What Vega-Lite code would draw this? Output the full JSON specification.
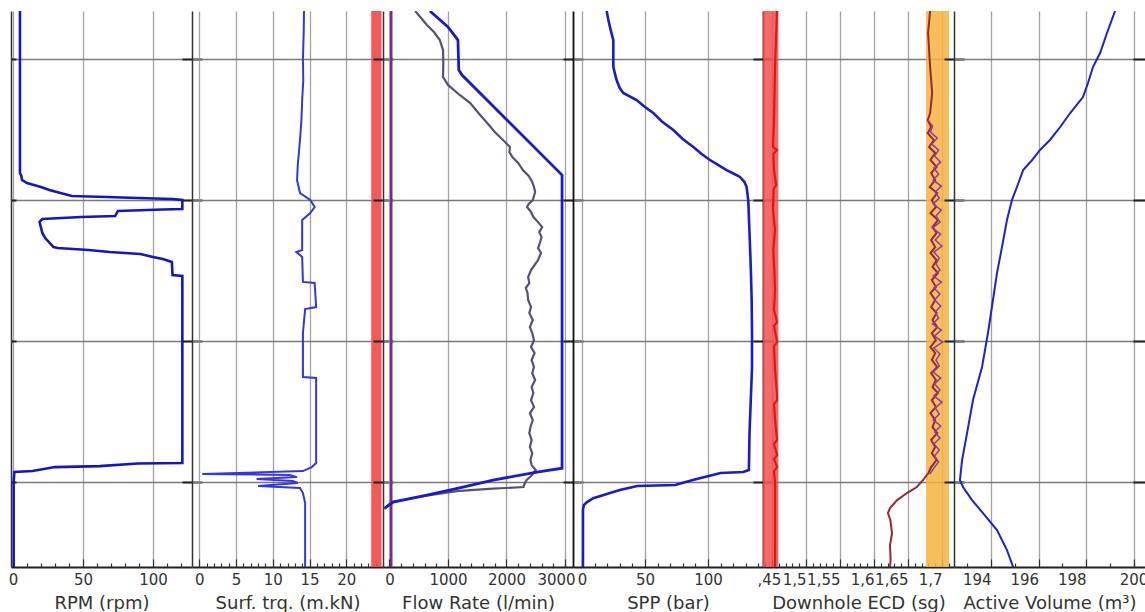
{
  "$schema": "https://vega.github.io/schema/vega-lite/v6.json",
  "background": "white",
  "padding": {"left": 8, "top": 9, "right": 0, "bottom": 0},
  "spacing": 0,
  "bounds": "flush",
  "config": {
    "view": {"stroke": null, "fill": null},
    "axis": {
      "labelFont": "DejaVu Sans", "labelFontSize": 15, "labelColor": "#333333",
      "titleFont": "DejaVu Sans", "titleFontSize": 18, "titleFontWeight": "normal", "titleColor": "#333333",
      "labelOverlap": false, "labelFlush": false
    }
  },
  "datasets": {
    "rpm": [{"t":6.6,"v":5},{"t":18.08,"v":5},{"t":18.29,"v":6},{"t":18.58,"v":6.5},{"t":18.79,"v":10},{"t":19.07,"v":20},{"t":19.29,"v":26},{"t":19.5,"v":34},{"t":19.71,"v":42},{"t":19.78,"v":67},{"t":19.85,"v":89},{"t":19.92,"v":114},{"t":19.99,"v":121},{"t":20.63,"v":121},{"t":20.67,"v":107},{"t":20.77,"v":75},{"t":21.13,"v":73},{"t":21.2,"v":49},{"t":21.34,"v":21},{"t":21.55,"v":19},{"t":22.33,"v":21},{"t":22.69,"v":23},{"t":23.33,"v":29},{"t":23.4,"v":32},{"t":23.54,"v":54},{"t":23.68,"v":69},{"t":23.82,"v":91},{"t":24.03,"v":100},{"t":24.18,"v":107},{"t":24.39,"v":113.5},{"t":25.31,"v":114},{"t":25.38,"v":121},{"t":38.63,"v":121},{"t":38.67,"v":89},{"t":38.85,"v":62},{"t":38.92,"v":30},{"t":39.2,"v":14},{"t":39.27,"v":1},{"t":39.98,"v":0.5},{"t":46,"v":0.5}],
    "trq": [{"t":6.6,"v":14.25},{"t":8.2,"v":14.2},{"t":10.07,"v":14.1},{"t":11.5,"v":14.15},{"t":12.91,"v":14.0},{"t":14.3,"v":13.9},{"t":15.74,"v":13.7},{"t":17.51,"v":13.4},{"t":18.58,"v":13.3},{"t":19.5,"v":13.7},{"t":19.99,"v":15.1},{"t":20.49,"v":15.7},{"t":20.92,"v":15.1},{"t":21.41,"v":14.0},{"t":23.54,"v":14.0},{"t":23.68,"v":13.2},{"t":24.03,"v":14.0},{"t":25.8,"v":14.1},{"t":25.87,"v":15.7},{"t":27.58,"v":15.9},{"t":27.72,"v":14.4},{"t":29.42,"v":14.1},{"t":32.54,"v":14.1},{"t":32.61,"v":15.9},{"t":38.63,"v":15.9},{"t":38.92,"v":15.3},{"t":39.2,"v":14.1},{"t":39.41,"v":0.4},{"t":39.48,"v":12.3},{"t":39.63,"v":13.3},{"t":39.77,"v":7.8},{"t":39.91,"v":12.7},{"t":40.05,"v":13.4},{"t":40.26,"v":8.0},{"t":40.4,"v":13.7},{"t":40.76,"v":14.1},{"t":41.47,"v":14.4},{"t":46,"v":14.4}],
    "trqband": [{"lo":23.4,"hi":24.8}],
    "flowin": [{"t":6.6,"v":690},{"t":7.73,"v":1000},{"t":8.66,"v":1170},{"t":10.78,"v":1185},{"t":11.14,"v":1240},{"t":14.54,"v":2060},{"t":18.22,"v":2950},{"t":39.0,"v":2950},{"t":39.27,"v":2520},{"t":39.84,"v":1770},{"t":40.4,"v":1200},{"t":40.9,"v":640},{"t":41.4,"v":60},{"t":41.82,"v":-80}],
    "flowout": [{"t":6.6,"v":440},{"t":7.1,"v":540},{"t":7.59,"v":640},{"t":8.09,"v":760},{"t":8.66,"v":860},{"t":9.36,"v":915},{"t":10.21,"v":920},{"t":11.28,"v":915},{"t":11.84,"v":1000},{"t":12.55,"v":1200},{"t":13.12,"v":1380},{"t":13.83,"v":1520},{"t":14.54,"v":1670},{"t":15.18,"v":1800},{"t":15.74,"v":1940},{"t":16.24,"v":2060},{"t":16.59,"v":2050},{"t":16.95,"v":2100},{"t":17.37,"v":2200},{"t":17.87,"v":2280},{"t":18.29,"v":2380},{"t":18.72,"v":2440},{"t":19.07,"v":2470},{"t":19.43,"v":2490},{"t":19.71,"v":2470},{"t":20.0,"v":2450},{"t":20.28,"v":2380},{"t":20.49,"v":2350},{"t":20.85,"v":2420},{"t":21.2,"v":2460},{"t":21.56,"v":2540},{"t":21.91,"v":2610},{"t":22.27,"v":2560},{"t":22.62,"v":2600},{"t":23.04,"v":2570},{"t":23.4,"v":2540},{"t":23.75,"v":2590},{"t":24.25,"v":2540},{"t":24.6,"v":2480},{"t":24.96,"v":2420},{"t":25.45,"v":2370},{"t":25.88,"v":2390},{"t":26.23,"v":2330},{"t":26.59,"v":2360},{"t":27.08,"v":2370},{"t":27.58,"v":2420},{"t":28.0,"v":2390},{"t":28.5,"v":2450},{"t":29.0,"v":2400},{"t":29.42,"v":2440},{"t":29.92,"v":2470},{"t":30.41,"v":2420},{"t":30.84,"v":2480},{"t":31.33,"v":2430},{"t":31.83,"v":2470},{"t":32.26,"v":2440},{"t":32.75,"v":2490},{"t":33.25,"v":2430},{"t":33.67,"v":2460},{"t":34.17,"v":2420},{"t":34.67,"v":2470},{"t":35.09,"v":2400},{"t":35.59,"v":2450},{"t":36.08,"v":2410},{"t":36.51,"v":2390},{"t":37.0,"v":2430},{"t":37.5,"v":2400},{"t":37.93,"v":2440},{"t":38.42,"v":2410},{"t":38.78,"v":2430},{"t":39.13,"v":2500},{"t":39.55,"v":2420},{"t":39.84,"v":2340},{"t":40.19,"v":2300},{"t":40.33,"v":2290},{"t":40.47,"v":1700},{"t":40.62,"v":1150},{"t":40.97,"v":600},{"t":41.4,"v":40},{"t":41.89,"v":-90}],
    "flowref": [{"v":30}],
    "spp": [{"t":6.6,"v":19.6},{"t":7.24,"v":21},{"t":7.73,"v":22.2},{"t":8.66,"v":24.9},{"t":10.57,"v":24.9},{"t":11.49,"v":27.5},{"t":12.06,"v":30},{"t":12.41,"v":32.8},{"t":12.91,"v":43.4},{"t":13.4,"v":50},{"t":13.83,"v":56.6},{"t":14.47,"v":64},{"t":15.03,"v":72.5},{"t":15.67,"v":80},{"t":16.24,"v":88.4},{"t":16.73,"v":95},{"t":17.16,"v":101.6},{"t":17.51,"v":108},{"t":17.87,"v":114.8},{"t":18.15,"v":121},{"t":18.36,"v":125.4},{"t":18.72,"v":129},{"t":19.07,"v":130.7},{"t":20.0,"v":132},{"t":22.33,"v":133},{"t":24.74,"v":134},{"t":27.08,"v":134.7},{"t":29.42,"v":135},{"t":31.83,"v":135},{"t":34.17,"v":134},{"t":36.51,"v":133},{"t":39.13,"v":132.5},{"t":39.27,"v":128},{"t":39.34,"v":110},{"t":39.84,"v":88},{"t":40.19,"v":74},{"t":40.26,"v":44},{"t":40.55,"v":30},{"t":41.12,"v":9},{"t":41.4,"v":4},{"t":41.61,"v":1.5},{"t":41.96,"v":0.8},{"t":46,"v":0.8}],
    "ecdredband": [{"lo":1.4368,"hi":1.4595}],
    "ecdorange": [{"lo":1.6765,"hi":1.7103}],
    "ecdred": [{"t":6.6,"v":1.4574},{"t":10.57,"v":1.4545},{"t":14.32,"v":1.453},{"t":16.24,"v":1.4515},{"t":16.45,"v":1.4574},{"t":16.73,"v":1.452},{"t":17.87,"v":1.453},{"t":18.93,"v":1.456},{"t":19.22,"v":1.4525},{"t":20.7,"v":1.4515},{"t":22.12,"v":1.4545},{"t":23.54,"v":1.452},{"t":24.96,"v":1.4535},{"t":26.37,"v":1.4545},{"t":27.79,"v":1.453},{"t":28.64,"v":1.4575},{"t":28.92,"v":1.453},{"t":30.06,"v":1.4575},{"t":30.34,"v":1.453},{"t":32.04,"v":1.4545},{"t":33.81,"v":1.4575},{"t":34.17,"v":1.4575},{"t":34.45,"v":1.453},{"t":35.59,"v":1.4545},{"t":37.0,"v":1.4575},{"t":37.29,"v":1.453},{"t":38.07,"v":1.4575},{"t":38.35,"v":1.453},{"t":38.92,"v":1.4575},{"t":39.2,"v":1.453},{"t":39.98,"v":1.4545},{"t":46,"v":1.4545}],
    "ecd": [{"t":6.6,"v":1.6825},{"t":8.16,"v":1.6795},{"t":10.57,"v":1.6825},{"t":12.41,"v":1.6855},{"t":13.83,"v":1.6825},{"t":14.33,"v":1.679},{"t":14.82,"v":1.684},{"t":15.25,"v":1.679},{"t":15.74,"v":1.688},{"t":16.24,"v":1.681},{"t":16.66,"v":1.69},{"t":17.16,"v":1.683},{"t":17.66,"v":1.692},{"t":18.08,"v":1.684},{"t":18.58,"v":1.69},{"t":19.07,"v":1.682},{"t":19.5,"v":1.693},{"t":20.0,"v":1.685},{"t":20.49,"v":1.691},{"t":20.92,"v":1.683},{"t":21.41,"v":1.694},{"t":21.91,"v":1.686},{"t":22.33,"v":1.692},{"t":22.83,"v":1.684},{"t":23.33,"v":1.69},{"t":23.75,"v":1.683},{"t":24.25,"v":1.692},{"t":24.74,"v":1.686},{"t":25.17,"v":1.694},{"t":25.66,"v":1.685},{"t":26.16,"v":1.691},{"t":26.59,"v":1.683},{"t":27.08,"v":1.69},{"t":27.58,"v":1.684},{"t":28.0,"v":1.692},{"t":28.5,"v":1.686},{"t":29.0,"v":1.693},{"t":29.42,"v":1.685},{"t":29.92,"v":1.691},{"t":30.41,"v":1.683},{"t":30.84,"v":1.69},{"t":31.33,"v":1.685},{"t":31.83,"v":1.693},{"t":32.26,"v":1.684},{"t":32.75,"v":1.691},{"t":33.25,"v":1.686},{"t":33.67,"v":1.694},{"t":34.17,"v":1.685},{"t":34.67,"v":1.691},{"t":35.09,"v":1.683},{"t":35.59,"v":1.69},{"t":36.08,"v":1.686},{"t":36.51,"v":1.693},{"t":37.0,"v":1.684},{"t":37.5,"v":1.69},{"t":37.93,"v":1.685},{"t":38.42,"v":1.692},{"t":38.92,"v":1.684},{"t":39.34,"v":1.68},{"t":39.84,"v":1.672},{"t":40.33,"v":1.663},{"t":40.76,"v":1.6485},{"t":41.26,"v":1.634},{"t":41.82,"v":1.6235},{"t":42.18,"v":1.6205},{"t":42.67,"v":1.624},{"t":43.61,"v":1.6265},{"t":44.46,"v":1.6235},{"t":45.51,"v":1.6245},{"t":46.0,"v":1.6235}],
    "ecd2": [{"t":14.33,"v":1.679},{"t":14.76,"v":1.686},{"t":15.18,"v":1.683},{"t":15.61,"v":1.693},{"t":16.03,"v":1.685},{"t":16.46,"v":1.695},{"t":16.88,"v":1.689},{"t":17.31,"v":1.698},{"t":17.73,"v":1.688},{"t":18.16,"v":1.695},{"t":18.58,"v":1.687},{"t":19.01,"v":1.699},{"t":19.43,"v":1.690},{"t":19.86,"v":1.696},{"t":20.28,"v":1.687},{"t":20.71,"v":1.699},{"t":21.13,"v":1.691},{"t":21.56,"v":1.697},{"t":21.98,"v":1.686},{"t":22.41,"v":1.698},{"t":22.83,"v":1.69},{"t":23.26,"v":1.7},{"t":23.68,"v":1.688},{"t":24.11,"v":1.696},{"t":24.53,"v":1.691},{"t":24.96,"v":1.697},{"t":25.38,"v":1.687},{"t":25.81,"v":1.699},{"t":26.23,"v":1.688},{"t":26.66,"v":1.697},{"t":27.08,"v":1.689},{"t":27.51,"v":1.698},{"t":27.93,"v":1.69},{"t":28.36,"v":1.695},{"t":28.78,"v":1.686},{"t":29.21,"v":1.699},{"t":29.63,"v":1.689},{"t":30.06,"v":1.701},{"t":30.48,"v":1.688},{"t":30.91,"v":1.697},{"t":31.33,"v":1.691},{"t":31.76,"v":1.696},{"t":32.18,"v":1.687},{"t":32.61,"v":1.698},{"t":33.03,"v":1.689},{"t":33.46,"v":1.697},{"t":33.88,"v":1.688},{"t":34.31,"v":1.7},{"t":34.73,"v":1.69},{"t":35.16,"v":1.696},{"t":35.58,"v":1.687},{"t":36.01,"v":1.698},{"t":36.43,"v":1.689},{"t":36.86,"v":1.697},{"t":37.28,"v":1.688},{"t":37.71,"v":1.696},{"t":38.13,"v":1.689},{"t":38.56,"v":1.695},{"t":38.98,"v":1.688},{"t":39.41,"v":1.682}],
    "vol": [{"t":6.6,"v":199.22},{"t":8.16,"v":198.88},{"t":9.58,"v":198.59},{"t":10.57,"v":198.29},{"t":11.7,"v":198.08},{"t":12.7,"v":197.87},{"t":13.83,"v":197.33},{"t":14.82,"v":196.91},{"t":15.74,"v":196.48},{"t":16.45,"v":196.06},{"t":17.16,"v":195.73},{"t":17.87,"v":195.35},{"t":19.07,"v":195.09},{"t":20.0,"v":194.88},{"t":21.41,"v":194.67},{"t":23.33,"v":194.46},{"t":25.17,"v":194.25},{"t":27.08,"v":194.08},{"t":29.42,"v":193.87},{"t":31.83,"v":193.62},{"t":34.17,"v":193.24},{"t":36.51,"v":192.99},{"t":38.42,"v":192.78},{"t":39.84,"v":192.69},{"t":40.33,"v":192.82},{"t":41.26,"v":193.2},{"t":42.18,"v":193.66},{"t":43.38,"v":194.25},{"t":44.8,"v":194.67},{"t":46.0,"v":194.93}]
  },
  "hconcat": [
    {
      "width": 181, "height": 556,
      "layer": [
        {
          "data": {"name": "rpm"},
          "mark": {"type": "line", "color": "#1515c8", "strokeWidth": 2.6, "clip": true},
          "encoding": {
            "x": {"field": "v", "type": "quantitative", "scale": {"domain": [-1.4, 127.9], "nice": false, "zero": false},
              "axis": {"orient": "bottom", "title": "RPM (rpm)", "format": "d", "values": [0, 50, 100],
                "grid": true, "gridColor": "#a3a3a3", "gridWidth": 1.3, "tickSize": -8,
                "tickColor": "#333333", "tickWidth": 1.2, "labelPadding": 13, "domainColor": "#222222", "domainWidth": 2, "titleY": 27}},
            "y": {"field": "t", "type": "quantitative", "scale": {"domain": [6.6, 46.0], "reverse": true, "nice": false, "zero": false},
              "axis": {"orient": "left", "values": [10,20,30,40], "labels": false, "title": null, "tickSize": -5, "tickColor": "#222222", "tickWidth": 2, "grid": true, "gridColor": "#7a7a7a", "gridWidth": 1.3, "domainColor": "#333333", "domainWidth": 1.5}},
            "order": {"field": "t"}
          }
        },
        {
          "data": {"name": "rpm"},
          "mark": {"type": "line", "opacity": 0, "clip": true},
          "encoding": {
            "x": {"field": "v", "type": "quantitative", "scale": {"domain": [-1.4, 127.9], "nice": false, "zero": false},
              "axis": {"orient": "bottom", "title": null, "values": [10,20,30,40,60,70,80,90,110,120], "labels": false, "grid": false, "domain": false, "tickSize": -4, "tickColor": "#333333", "tickWidth": 1.2}},
            "y": {"field": "t", "type": "quantitative", "scale": {"domain": [6.6, 46.0], "reverse": true, "nice": false, "zero": false},
              "axis": {"orient": "right", "values": [10,20,30,40], "labels": false, "title": null, "tickSize": 10, "tickColor": "#222222", "tickWidth": 2, "grid": false, "domain": false}},
            "order": {"field": "t"}
          }
        }
      ],
      "resolve": {"axis": {"x": "independent", "y": "independent"}}
    },
    {
      "width": 191, "height": 556,
      "layer": [
        {
          "data": {"name": "trqband"},
          "mark": {"type": "rect", "color": "#f04848", "opacity": 0.9},
          "encoding": {
            "x": {"field": "lo", "type": "quantitative", "scale": {"domain": [-1, 25], "nice": false, "zero": false}, "axis": null},
            "x2": {"field": "hi"}
          }
        },
        {
          "data": {"name": "trq"},
          "mark": {"type": "line", "color": "#3535e6", "strokeWidth": 2, "clip": true},
          "encoding": {
            "x": {"field": "v", "type": "quantitative", "scale": {"domain": [-1, 25], "nice": false, "zero": false},
              "axis": {"orient": "bottom", "title": "Surf. trq. (m.kN)", "format": "d", "values": [0, 5, 10, 15, 20],
                "grid": true, "gridColor": "#a3a3a3", "gridWidth": 1.3, "tickSize": -8,
                "tickColor": "#333333", "tickWidth": 1.2, "labelPadding": 13, "domainColor": "#222222", "domainWidth": 2, "titleY": 27}},
            "y": {"field": "t", "type": "quantitative", "scale": {"domain": [6.6, 46.0], "reverse": true, "nice": false, "zero": false},
              "axis": {"orient": "left", "values": [10,20,30,40], "labels": false, "title": null, "tickSize": 10, "tickColor": "#222222", "tickWidth": 2, "grid": true, "gridColor": "#7a7a7a", "gridWidth": 1.3, "domainColor": "#333333", "domainWidth": 1.5}},
            "order": {"field": "t"}
          }
        },
        {
          "data": {"name": "trq"},
          "mark": {"type": "line", "opacity": 0, "clip": true},
          "encoding": {
            "x": {"field": "v", "type": "quantitative", "scale": {"domain": [-1, 25], "nice": false, "zero": false},
              "axis": {"orient": "bottom", "title": null, "values": [1,2,3,4,6,7,8,9,11,12,13,14,16,17,18,19,21,22,23,24], "labels": false, "grid": false, "domain": false, "tickSize": -4, "tickColor": "#333333", "tickWidth": 1.2}},
            "y": {"field": "t", "type": "quantitative", "scale": {"domain": [6.6, 46.0], "reverse": true, "nice": false, "zero": false},
              "axis": {"orient": "right", "values": [10,20,30,40], "labels": false, "title": null, "tickSize": 10, "tickColor": "#222222", "tickWidth": 2, "grid": false, "domain": false}},
            "order": {"field": "t"}
          }
        }
      ],
      "resolve": {"axis": {"x": "independent", "y": "independent"}}
    },
    {
      "width": 190, "height": 556,
      "layer": [
        {
          "data": {"name": "flowref"},
          "mark": {"type": "rule", "color": "#7a2a8a", "strokeWidth": 2.5},
          "encoding": {
            "x": {"field": "v", "type": "quantitative", "scale": {"domain": [-111, 3137], "nice": false, "zero": false}, "axis": null}
          }
        },
        {
          "data": {"name": "flowout"},
          "mark": {"type": "line", "color": "#52527a", "strokeWidth": 2.2, "clip": true},
          "encoding": {
            "x": {"field": "v", "type": "quantitative", "scale": {"domain": [-111, 3137], "nice": false, "zero": false},
              "axis": {"orient": "bottom", "title": null, "format": "d", "values": [200,400,600,800,1200,1400,1600,1800,2200,2400,2600,2800,3000],
                "labelExpr": "datum.value == 3000 ? '3000' : ''", "labelOffset": -9, "labelPadding": 9,
                "grid": false, "domain": false, "tickSize": -4, "tickColor": "#333333", "tickWidth": 1.2}},
            "y": {"field": "t", "type": "quantitative", "scale": {"domain": [6.6, 46.0], "reverse": true, "nice": false, "zero": false},
              "axis": {"orient": "right", "values": [10,20,30,40], "labels": false, "title": null, "tickSize": 10, "tickColor": "#222222", "tickWidth": 2, "grid": false, "domain": false}},
            "order": {"field": "t"}
          }
        },
        {
          "data": {"name": "flowin"},
          "mark": {"type": "line", "color": "#1a1ad0", "strokeWidth": 2.8, "clip": true},
          "encoding": {
            "x": {"field": "v", "type": "quantitative", "scale": {"domain": [-111, 3137], "nice": false, "zero": false},
              "axis": {"orient": "bottom", "title": "Flow Rate (l/min)", "format": "d", "values": [0, 1000, 2000, 3000],
                "labelExpr": "datum.value == 3000 ? '' : datum.label",
                "grid": true, "gridColor": "#a3a3a3", "gridWidth": 1.3, "tickSize": -8,
                "tickColor": "#333333", "tickWidth": 1.2, "labelPadding": 13, "domainColor": "#222222", "domainWidth": 2, "titleY": 27}},
            "y": {"field": "t", "type": "quantitative", "scale": {"domain": [6.6, 46.0], "reverse": true, "nice": false, "zero": false},
              "axis": {"orient": "left", "values": [10,20,30,40], "labels": false, "title": null, "tickSize": 10, "tickColor": "#222222", "tickWidth": 2, "grid": true, "gridColor": "#7a7a7a", "gridWidth": 1.3, "domainColor": "#333333", "domainWidth": 1.5}},
            "order": {"field": "t"}
          }
        }
      ],
      "resolve": {"axis": {"x": "independent", "y": "independent"}}
    },
    {
      "width": 190, "height": 556,
      "layer": [
        {
          "data": {"name": "spp"},
          "mark": {"type": "line", "color": "#1a1ad0", "strokeWidth": 2.6, "clip": true},
          "encoding": {
            "x": {"field": "v", "type": "quantitative", "scale": {"domain": [-7.1, 143.7], "nice": false, "zero": false},
              "axis": {"orient": "bottom", "title": "SPP (bar)", "format": "d", "values": [0, 50, 100],
                "grid": true, "gridColor": "#a3a3a3", "gridWidth": 1.3, "tickSize": -8,
                "tickColor": "#333333", "tickWidth": 1.2, "labelPadding": 13, "domainColor": "#222222", "domainWidth": 2, "titleY": 27}},
            "y": {"field": "t", "type": "quantitative", "scale": {"domain": [6.6, 46.0], "reverse": true, "nice": false, "zero": false},
              "axis": {"orient": "left", "values": [10,20,30,40], "labels": false, "title": null, "tickSize": 10, "tickColor": "#222222", "tickWidth": 2, "grid": true, "gridColor": "#7a7a7a", "gridWidth": 1.3, "domainColor": "#111111", "domainWidth": 1.8}},
            "order": {"field": "t"}
          }
        },
        {
          "data": {"name": "spp"},
          "mark": {"type": "line", "opacity": 0, "clip": true},
          "encoding": {
            "x": {"field": "v", "type": "quantitative", "scale": {"domain": [-7.1, 143.7], "nice": false, "zero": false},
              "axis": {"orient": "bottom", "title": null, "values": [10,20,30,40,60,70,80,90,110,120,130,140], "labels": false, "grid": false, "domain": false, "tickSize": -4, "tickColor": "#333333", "tickWidth": 1.2}},
            "y": {"field": "t", "type": "quantitative", "scale": {"domain": [6.6, 46.0], "reverse": true, "nice": false, "zero": false},
              "axis": {"orient": "right", "values": [10,20,30,40], "labels": false, "title": null, "tickSize": 10, "tickColor": "#222222", "tickWidth": 2, "grid": false, "domain": false}},
            "order": {"field": "t"}
          }
        }
      ],
      "resolve": {"axis": {"x": "independent", "y": "independent"}}
    },
    {
      "width": 191, "height": 556,
      "layer": [
        {
          "data": {"name": "ecdredband"},
          "mark": {"type": "rect", "color": "#f05050", "opacity": 0.85},
          "encoding": {
            "x": {"field": "lo", "type": "quantitative", "scale": {"domain": [1.4368, 1.7176], "nice": false, "zero": false}, "axis": null},
            "x2": {"field": "hi"}
          }
        },
        {
          "data": {"name": "ecdorange"},
          "mark": {"type": "rect", "color": "#f6b440", "opacity": 0.85},
          "encoding": {
            "x": {"field": "lo", "type": "quantitative", "scale": {"domain": [1.4368, 1.7176], "nice": false, "zero": false}, "axis": null},
            "x2": {"field": "hi"}
          }
        },
        {
          "data": {"name": "ecdred"},
          "mark": {"type": "line", "color": "#ee1111", "strokeWidth": 2.2, "clip": true},
          "encoding": {
            "x": {"field": "v", "type": "quantitative", "scale": {"domain": [1.4368, 1.7176], "nice": false, "zero": false}, "axis": null},
            "y": {"field": "t", "type": "quantitative", "scale": {"domain": [6.6, 46.0], "reverse": true, "nice": false, "zero": false}, "axis": null},
            "order": {"field": "t"}
          }
        },
        {
          "data": {"name": "ecd"},
          "mark": {"type": "line", "color": "#962838", "strokeWidth": 2, "clip": true},
          "encoding": {
            "x": {"field": "v", "type": "quantitative", "scale": {"domain": [1.4368, 1.7176], "nice": false, "zero": false},
              "axis": {"orient": "bottom", "title": "Downhole ECD (sg)", "values": [1.45, 1.5, 1.55, 1.6, 1.65, 1.7],
                "labelExpr": "datum.value < 1.46 ? '' : replace(format(datum.value, '.2~f'), '.', ',')",
                "labelAlign": "right", "labelOffset": 0,
                "grid": true, "gridColor": "#a3a3a3", "gridWidth": 1.3, "tickSize": -8,
                "tickColor": "#333333", "tickWidth": 1.2, "labelPadding": 13, "domainColor": "#222222", "domainWidth": 2, "titleY": 27}},
            "y": {"field": "t", "type": "quantitative", "scale": {"domain": [6.6, 46.0], "reverse": true, "nice": false, "zero": false},
              "axis": {"orient": "left", "values": [10,20,30,40], "labels": false, "title": null, "tickSize": 10, "tickColor": "#222222", "tickWidth": 2, "grid": true, "gridColor": "#7a7a7a", "gridWidth": 1.3, "domainColor": "#111111", "domainWidth": 1.8}},
            "order": {"field": "t"}
          }
        },
        {
          "data": {"name": "ecd2"},
          "mark": {"type": "line", "color": "#8a3ab4", "strokeWidth": 1.5, "clip": true},
          "encoding": {
            "x": {"field": "v", "type": "quantitative", "scale": {"domain": [1.4368, 1.7176], "nice": false, "zero": false},
              "axis": {"orient": "bottom", "title": null, "values": [1.44,1.45,1.46,1.47,1.48,1.49,1.51,1.52,1.53,1.54,1.56,1.57,1.58,1.59,1.61,1.62,1.63,1.64,1.66,1.67,1.68,1.69,1.71],
                "labelExpr": "abs(datum.value - 1.45) < 0.001 ? ',45' : ''", "labelPadding": 9, "labelOffset": -3,
                "grid": false, "domain": false, "tickSize": -4, "tickColor": "#333333", "tickWidth": 1.2}},
            "y": {"field": "t", "type": "quantitative", "scale": {"domain": [6.6, 46.0], "reverse": true, "nice": false, "zero": false},
              "axis": {"orient": "right", "values": [10,20,30,40], "labels": false, "title": null, "tickSize": 10, "tickColor": "#222222", "tickWidth": 2, "grid": false, "domain": false}},
            "order": {"field": "t"}
          }
        }
      ],
      "resolve": {"axis": {"x": "independent", "y": "independent"}}
    },
    {
      "width": 191, "height": 556,
      "layer": [
        {
          "data": {"name": "vol"},
          "mark": {"type": "line", "color": "#2020d0", "strokeWidth": 2, "clip": true},
          "encoding": {
            "x": {"field": "v", "type": "quantitative", "scale": {"domain": [192.44, 200.48], "nice": false, "zero": false},
              "axis": {"orient": "bottom", "title": "Active Volume (m³)", "format": "d", "values": [194, 196, 198, 200],
                "labelExpr": "datum.value == 200 ? '' : datum.label", "labelAlign": "right",
                "grid": true, "gridColor": "#a3a3a3", "gridWidth": 1.3, "tickSize": -8,
                "tickColor": "#333333", "tickWidth": 1.2, "labelPadding": 13, "domainColor": "#222222", "domainWidth": 2, "titleY": 27}},
            "y": {"field": "t", "type": "quantitative", "scale": {"domain": [6.6, 46.0], "reverse": true, "nice": false, "zero": false},
              "axis": {"orient": "left", "values": [10,20,30,40], "labels": false, "title": null, "tickSize": 10, "tickColor": "#222222", "tickWidth": 2, "grid": true, "gridColor": "#7a7a7a", "gridWidth": 1.3, "domainColor": "#333333", "domainWidth": 1.5}},
            "order": {"field": "t"}
          }
        },
        {
          "data": {"name": "vol"},
          "mark": {"type": "line", "opacity": 0, "clip": true},
          "encoding": {
            "x": {"field": "v", "type": "quantitative", "scale": {"domain": [192.44, 200.48], "nice": false, "zero": false},
              "axis": {"orient": "bottom", "title": null, "format": "d", "values": [193, 195, 197, 199, 200],
                "labelExpr": "datum.value == 200 ? '200' : ''", "labelPadding": 9,
                "grid": false, "domain": false, "tickSize": -4, "tickColor": "#333333", "tickWidth": 1.2}},
            "y": {"field": "t", "type": "quantitative", "scale": {"domain": [6.6, 46.0], "reverse": true, "nice": false, "zero": false},
              "axis": {"orient": "right", "values": [10,20,30,40], "labels": false, "title": null, "tickSize": -12, "tickColor": "#222222", "tickWidth": 2, "grid": false, "domain": false}},
            "order": {"field": "t"}
          }
        }
      ],
      "resolve": {"axis": {"x": "independent", "y": "independent"}}
    }
  ]
}
